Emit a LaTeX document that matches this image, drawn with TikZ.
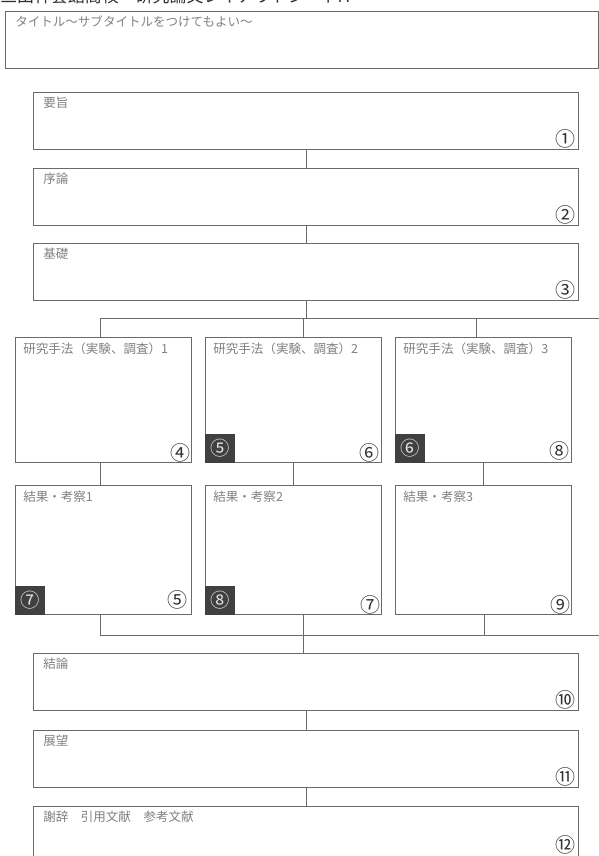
\documentclass[tikz,border=0pt]{standalone}
\usepackage{fontspec}
\usepackage{xcolor}
\usepackage{tikz}
\usetikzlibrary{positioning}
\setmainfont{Noto Sans CJK JP}
\definecolor{framegray}{HTML}{6A6A6A}
\definecolor{labelgray}{HTML}{808080}
\definecolor{inkgray}{HTML}{303030}
\definecolor{darkmark}{HTML}{404040}
\newcommand{\pxl}{0.75pt}

\tikzset{
  part/.style={draw=framegray, line width=0.8pt, inner sep=0pt, anchor=north west},
  widepart/.style={part, minimum width=545*\pxl, minimum height=57*\pxl},
  colpart/.style={part, minimum width=176*\pxl, minimum height=#1*\pxl},
  heading/.style={anchor=north west, inner sep=0pt, text=labelgray,
                  font=\fontsize{9.4}{11}\selectfont},
  pageno/.style={inner sep=0pt, text=inkgray, font=\fontsize{15}{17}\selectfont},
  tag/.style={anchor=south west, fill=darkmark, text=white!90!black, inner sep=0pt,
              minimum width=30*\pxl, minimum height=29*\pxl,
              font=\fontsize{14.5}{16}\selectfont},
  link/.style={draw=framegray, line width=0.6pt}
}

\begin{document}
\begin{tikzpicture}[x=\pxl, y=-\pxl]
  \useasboundingbox (0,0) rectangle (599,856);

  % sheet header and title
  \node[anchor=base west, inner sep=0pt, text=inkgray,
        font=\fontsize{12.7}{14}\selectfont] (sheet) at (0,3)
        {三田祥雲館高校　研究論文レイアウトシートA};
  \node[part, minimum width=593*\pxl, minimum height=57*\pxl] (title) at (5,11) {};
  \node[heading] at ([shift={(10,4)}]title.north west) {タイトル～サブタイトルをつけてもよい～};

  % upper sections
  \node[widepart] (abs) at (33,92) {};
  \node[widepart, below=18*\pxl of abs] (intro) {};
  \node[widepart, below=17*\pxl of intro] (basic) {};

  % methods and results
  \node[colpart=125] (m1) at (15,337) {};
  \node[colpart=125, right=13*\pxl of m1] (m2) {};
  \node[colpart=125, right=13*\pxl of m2] (m3) {};
  \node[colpart=129, below=22*\pxl of m1] (r1) {};
  \node[colpart=129, below=22*\pxl of m2] (r2) {};
  \node[colpart=129, below=22*\pxl of m3] (r3) {};

  % lower sections
  \node[widepart] (concl) at (33,653) {};
  \node[widepart, below=19*\pxl of concl] (outlook) {};
  \node[widepart, below=18*\pxl of outlook] (thanks) {};

  % headings
  \node[heading] at ([shift={(10,5)}]abs.north west) {要旨};
  \node[heading] at ([shift={(10,5)}]intro.north west) {序論};
  \node[heading] at ([shift={(10,5)}]basic.north west) {基礎};
  \node[heading] at ([shift={(8,6)}]m1.north west) {研究手法（実験、調査）1};
  \node[heading] at ([shift={(8,6)}]m2.north west) {研究手法（実験、調査）2};
  \node[heading] at ([shift={(8,6)}]m3.north west) {研究手法（実験、調査）3};
  \node[heading] at ([shift={(8,6)}]r1.north west) {結果・考察1};
  \node[heading] at ([shift={(8,6)}]r2.north west) {結果・考察2};
  \node[heading] at ([shift={(8,6)}]r3.north west) {結果・考察3};
  \node[heading] at ([shift={(10,5)}]concl.north west) {結論};
  \node[heading] at ([shift={(10,5)}]outlook.north west) {展望};
  \node[heading] at ([shift={(10,5)}]thanks.north west) {謝辞　引用文献　参考文献};

  % page numbers
  \node[pageno] at ([shift={(-14,-11)}]abs.south east) {①};
  \node[pageno] at ([shift={(-14,-11)}]intro.south east) {②};
  \node[pageno] at ([shift={(-14,-11)}]basic.south east) {③};
  \node[pageno] at ([shift={(-12,-10)}]m1.south east) {④};
  \node[pageno] at ([shift={(-13,-10)}]m2.south east) {⑥};
  \node[pageno] at ([shift={(-13,-12)}]m3.south east) {⑧};
  \node[pageno] at ([shift={(-15,-15)}]r1.south east) {⑤};
  \node[pageno] at ([shift={(-12,-10)}]r2.south east) {⑦};
  \node[pageno] at ([shift={(-12,-10)}]r3.south east) {⑨};
  \node[pageno] at ([shift={(-14,-11)}]concl.south east) {⑩};
  \node[pageno] at ([shift={(-14,-11)}]outlook.south east) {⑪};
  \node[pageno] at ([shift={(-14,-19)}]thanks.south east) {⑫};

  % dark order tags
  \node[tag] (t2) at (m2.south west) {⑤};
  \node[tag] (t3) at (m3.south west) {⑥};
  \node[tag] (t4) at (r1.south west) {⑦};
  \node[tag] (t5) at (r2.south west) {⑧};

  % connectors
  \coordinate (forkL) at (100,318);
  \coordinate (forkM) at (303,318);
  \coordinate (forkR) at (476,318);
  \coordinate (forkEnd) at (599,318);
  \coordinate (joinL) at (100,635);
  \coordinate (joinM) at (303,635);
  \coordinate (joinR) at (484,635);
  \coordinate (joinEnd) at (599,635);

  \draw[link] (abs) -- (intro);
  \draw[link] (intro) -- (basic);
  \draw[link] (basic) -- (basic.south |- forkL);
  \draw[link] (forkL) -- (forkEnd);
  \draw[link] (forkL) -- (forkL |- m1.north);
  \draw[link] (forkM) -- (forkM |- m2.north);
  \draw[link] (forkR) -- (forkR |- m3.north);

  \draw[link] (m1.south -| forkL) -- (r1.north -| forkL);
  \draw[link] (m2) -- (r2);
  \draw[link] (m3) -- (r3);

  \draw[link] (r1.south -| joinL) -- (joinL);
  \draw[link] (r2.south -| joinM) -- (joinM);
  \draw[link] (r3.south -| joinR) -- (joinR);
  \draw[link] (joinL) -- (joinEnd);
  \draw[link] (joinM) -- (joinM |- concl.north);
  \draw[link] (concl) -- (outlook);
  \draw[link] (outlook) -- (thanks);
\end{tikzpicture}
\end{document}
